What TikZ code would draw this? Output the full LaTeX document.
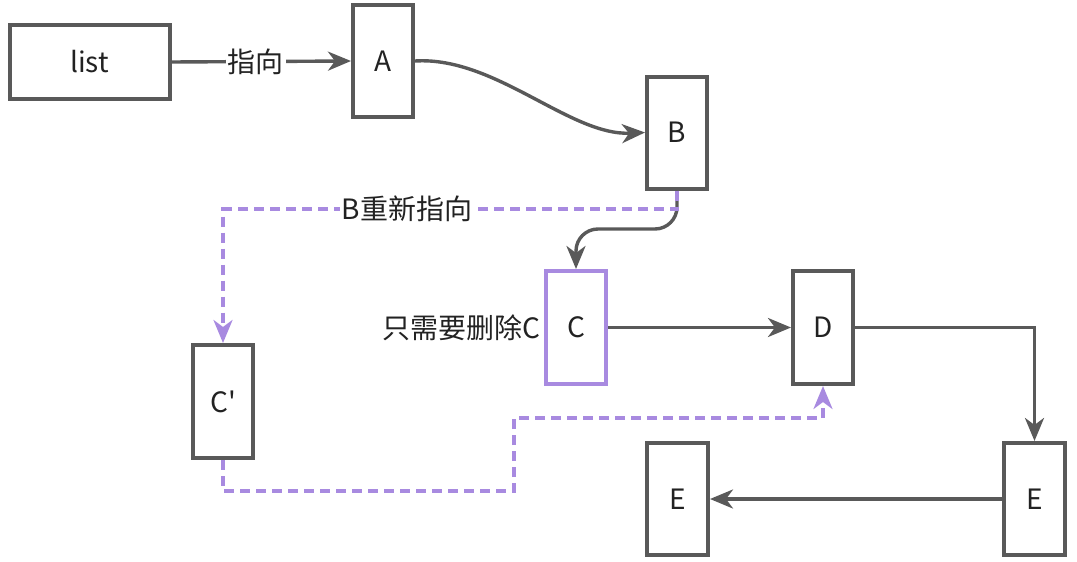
\documentclass[tikz,border=0pt]{standalone}
\usepackage{fontspec}
\setmainfont{Noto Sans CJK SC}
\usetikzlibrary{arrows.meta,calc}
\definecolor{edge}{RGB}{89,89,89}
\definecolor{violet}{RGB}{168,138,224}
\definecolor{ink}{RGB}{34,34,34}
\begin{document}
\begin{tikzpicture}[x=1pt,y=-1pt,
  font=\fontsize{28}{33}\selectfont,
  box/.style={draw=edge,line width=4pt,fill=white,rectangle,inner sep=0pt,
    minimum width=60pt,minimum height=112pt,text=ink},
  vbox/.style={box,draw=violet},
  tip/.style={-{Stealth[length=23pt,width=19pt,inset=7pt]}},
  conn/.style={draw=edge,line width=3.4pt,tip},
  vconn/.style={draw=violet,line width=3.4pt,dash pattern=on 10pt off 6pt,tip},
  lbl/.style={fill=white,text=ink,inner sep=2pt}]
\useasboundingbox (0,0) rectangle (1077,562);
\node[box,minimum width=160pt,minimum height=74pt] (list) at (89.5,62) {list};
\node[box] (A) at (383,61) {A};
\node[box] (B) at (677,132.5) {B};
\node[vbox,minimum height=113pt] (C) at (576,327.5) {C};
\node[box,minimum height=113pt] (D) at (823,327.5) {D};
\node[box,minimum height=113pt] (Cp) at (223,401.5) {C\textquotesingle};
\node[box,minimum width=61pt] (El) at (677.5,499) {E};
\node[box,minimum width=61pt] (Er) at (1034.5,499) {E};
\node[text=ink,anchor=east,inner sep=0pt] (note) at (541,328) {只需要删除C};
% solid connectors
\draw[conn] (list.east) -- node[lbl,pos=0.47]{指向} (A.west);
\draw[conn] (A.east) .. controls (495,56) and (570,136) .. (B.west);
\draw[conn,rounded corners=22pt] (B.south) -- (B.south |- 0,229) -- (C.north |- 0,229) -- (C.north);
\draw[conn] (C.east) -- (D.west);
\draw[conn] (D.east) -| (Er.north);
\draw[conn] (Er.west) -- (El.east);
% dashed connectors
\coordinate (w1) at (514,491);
\coordinate (w2) at (514,418);
\draw[vconn] (B.south) -- (B.south |- 0,209) -- node[lbl,pos=0.595]{B重新指向} (Cp.north |- 0,209) -- (Cp.north);
\draw[vconn] (Cp.south) -- (Cp.south |- w1) -- (w1) -- (w2) -- (D.south |- w2) -- (D.south);
\end{tikzpicture}
\end{document}
